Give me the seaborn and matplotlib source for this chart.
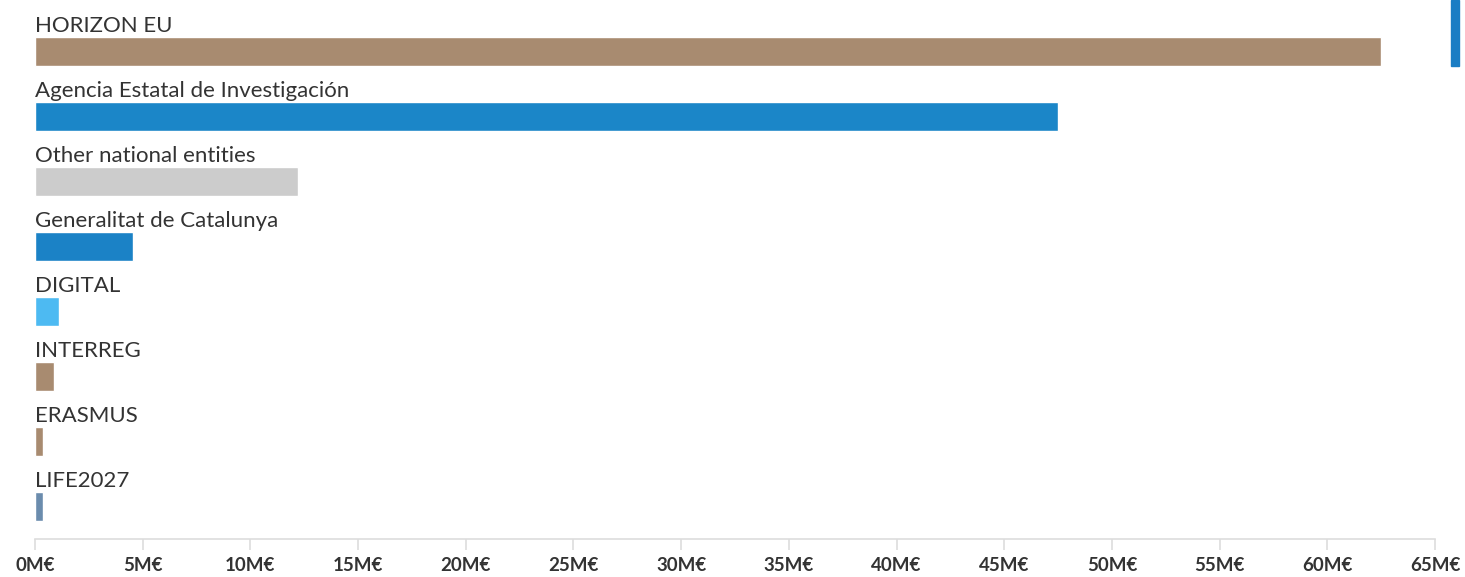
import numpy as np
import matplotlib
matplotlib.use("Agg")
import matplotlib.pyplot as plt
import matplotlib.patches as mpatches
import pandas as pd
import seaborn as sns

# funding sources and amounts (million euros)
sources = ["HORIZON EU", "Agencia Estatal de Investigación", "Other national entities",
           "Generalitat de Catalunya", "DIGITAL", "INTERREG", "ERASMUS", "LIFE2027"]
amounts = [62.5, 47.5, 12.2, 4.55, 1.1, 0.88, 0.38, 0.35]
bar_colors = ["#a88b70", "#1b86c8", "#cccccc", "#1b82c6", "#4dbaf2", "#a88b70", "#a88b70", "#6b8cad"]
tick_values = list(range(0, 70, 5))
tick_labels = [f"{v}M€" for v in tick_values]

df = pd.DataFrame({"source": sources, "amount": amounts})

sns.set_style("white")
plt.rcParams["font.family"] = ["Lato", "DejaVu Sans"]

fig = plt.figure(figsize=(14.65, 5.77), dpi=100)
ax = fig.add_axes([35 / 1465, 38 / 577, 1400 / 1465, 520 / 577])

sns.barplot(data=df, x="amount", y="source", hue="source", palette=bar_colors,
            orient="h", width=0.446, legend=False, ax=ax, saturation=1)

ax.set_xlim(0, 65)
ax.set_ylim(7.5, -0.5)
ax.set_xticks(tick_values)
ax.set_xticklabels(tick_labels, fontsize=13.5, fontweight="bold", color="#333333")
ax.set_yticks([])
ax.set_xlabel("")
ax.set_ylabel("")

# label above each bar
for i, name in enumerate(sources):
    ax.text(0, i - 0.3, name, fontsize=16, color="#333333", va="baseline", ha="left",
            clip_on=False)

for side in ["top", "right", "left"]:
    ax.spines[side].set_visible(False)
ax.spines["bottom"].set_color("#dddddd")
ax.spines["bottom"].set_linewidth(1.2)
ax.tick_params(axis="x", bottom=True, length=8, color="#dddddd", width=1.2, pad=5)

# blue marker at top right
fig.patches.append(mpatches.Rectangle((1451 / 1465, 511 / 577), 8 / 1465, 66 / 577,
                                      transform=fig.transFigure, color="#1a7dc4"))

fig.savefig("out.png", dpi=100)
